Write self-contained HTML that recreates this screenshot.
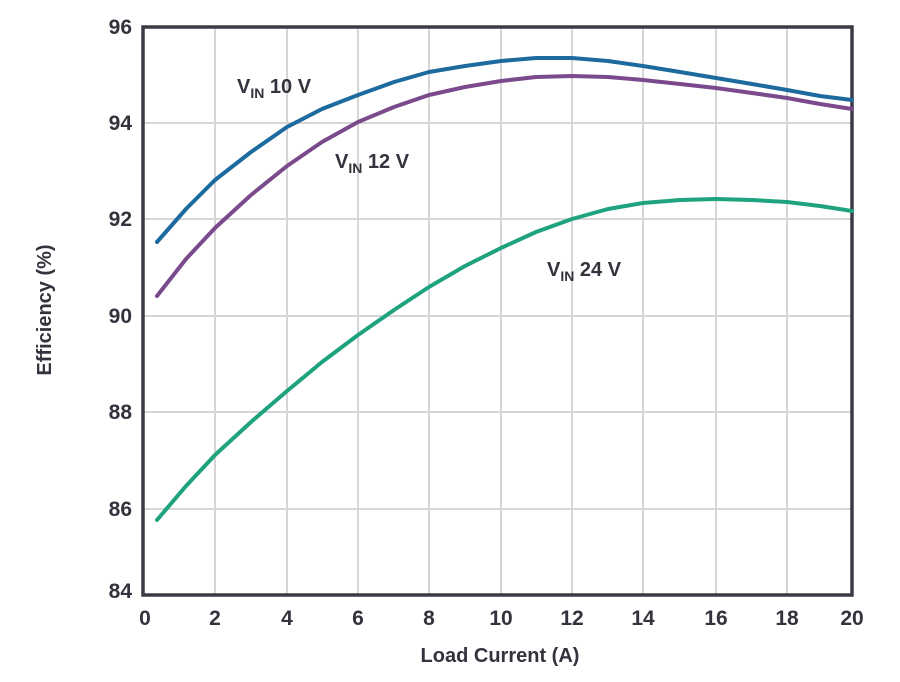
<!DOCTYPE html>
<html><head><style>body{margin:0;background:#fff}svg{display:block}text{font-family:"Liberation Sans",sans-serif;font-weight:bold;fill:#33333d}</style></head><body>
<svg width="900" height="682" viewBox="0 0 900 682">
<g stroke="#d6d6d6" stroke-width="2">
<line x1="215" y1="27" x2="215" y2="595"/><line x1="287" y1="27" x2="287" y2="595"/><line x1="358" y1="27" x2="358" y2="595"/><line x1="429" y1="27" x2="429" y2="595"/><line x1="501" y1="27" x2="501" y2="595"/><line x1="572" y1="27" x2="572" y2="595"/><line x1="643" y1="27" x2="643" y2="595"/><line x1="716" y1="27" x2="716" y2="595"/><line x1="787" y1="27" x2="787" y2="595"/>
<line x1="143" y1="123" x2="852" y2="123"/><line x1="143" y1="219" x2="852" y2="219"/><line x1="143" y1="316" x2="852" y2="316"/><line x1="143" y1="412" x2="852" y2="412"/><line x1="143" y1="509" x2="852" y2="509"/>
</g>
<rect x="143" y="27" width="709" height="568" fill="none" stroke="#3a3a45" stroke-width="3.5"/>
<g fill="none" stroke-width="4" stroke-linejoin="round" stroke-linecap="round">
<polyline stroke="#1c6a9e" points="157,242 186,209 215,180 251,152 287,127 322,109 358,95 394,82 429,72 465,66 501,61 536,58 572,58 608,61 643,66 680,72 716,78 752,84 787,90 820,96 852,100"/>
<polyline stroke="#7a4a8c" points="157,296 186,259 215,228 251,195 287,166 322,142 358,122 394,107 429,95 465,87 501,81 536,77 572,76 608,77 643,80 680,84 716,88 752,93 787,98 820,104 852,109"/>
<polyline stroke="#1fa37f" points="157,520 186,486 215,455 251,422 287,391 322,362 358,335 394,310 429,287 465,266 501,248 536,232 572,219 608,209 643,203 680,200 716,199 752,200 787,202 820,206 852,211"/>
</g>
<g font-size="21" text-anchor="end">
<text x="132" y="34">96</text><text x="132" y="130">94</text><text x="132" y="226">92</text><text x="132" y="323">90</text><text x="132" y="419">88</text><text x="132" y="516">86</text><text x="132" y="598">84</text>
</g>
<g font-size="21" text-anchor="middle">
<text x="145" y="625">0</text><text x="215" y="625">2</text><text x="287" y="625">4</text><text x="358" y="625">6</text><text x="429" y="625">8</text><text x="501" y="625">10</text><text x="572" y="625">12</text><text x="643" y="625">14</text><text x="716" y="625">16</text><text x="787" y="625">18</text><text x="852" y="625">20</text>
</g>
<text x="500" y="662" font-size="20" text-anchor="middle">Load Current (A)</text>
<text transform="translate(51,310) rotate(-90)" font-size="20" text-anchor="middle">Efficiency (%)</text>
<g font-size="20">
<text x="237" y="93">V<tspan font-size="14" dy="5">IN</tspan><tspan dy="-5"> 10 V</tspan></text>
<text x="335" y="168">V<tspan font-size="14" dy="5">IN</tspan><tspan dy="-5"> 12 V</tspan></text>
<text x="547" y="276">V<tspan font-size="14" dy="5">IN</tspan><tspan dy="-5"> 24 V</tspan></text>
</g>
</svg>
</body></html>
